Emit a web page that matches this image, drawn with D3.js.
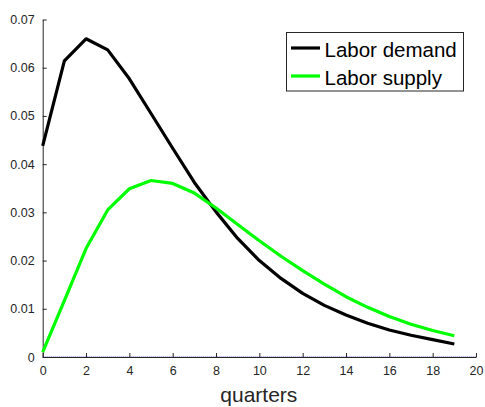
<!DOCTYPE html>
<html>
<head>
<meta charset="utf-8">
<script src="https://cdn.jsdelivr.net/npm/d3@7"></script>
<style>
  body { margin: 0; background: #fff; }
  svg { font-family: "Liberation Sans", Arial, sans-serif; }
  .axis path, .axis line { stroke: #262626; }
  .axis text { fill: #262626; font-size: 12.5px; }
</style>
</head>
<body>
<svg id="chart" width="485" height="407"></svg>
<script>
// quarters 0..19
const quarters = d3.range(0, 20);
const laborDemand = [0.0438, 0.0614, 0.0660, 0.0637, 0.0577, 0.0505, 0.0433, 0.0362, 0.0301, 0.0246,
                     0.0200, 0.0163, 0.0132, 0.0107, 0.0087, 0.0070, 0.0056, 0.0045, 0.0036, 0.0027];
const laborSupply = [0.0010, 0.0117, 0.0225, 0.0305, 0.0349, 0.0366, 0.0360, 0.0340, 0.0309, 0.0275,
                     0.0241, 0.0209, 0.0179, 0.0151, 0.0125, 0.0103, 0.0084, 0.0068, 0.0055, 0.0044];
const xTicks = d3.range(0, 21, 2);
const yTicks = [0, 0.01, 0.02, 0.03, 0.04, 0.05, 0.06, 0.07];
const series = [
  {name: 'Labor demand', values: laborDemand, color: '#000000'},
  {name: 'Labor supply', values: laborSupply, color: '#00ff00'}
];

let svg = d3.select('#chart'),
    x = d3.scaleLinear().domain([0, 20]).range([42.7, 476]),
    y = d3.scaleLinear().domain([0, 0.07]).range([357, 19.5]);

// zero line
svg.append('line')
    .attr('x1', x(0)).attr('x2', x(20))
    .attr('y1', y(0)).attr('y2', y(0))
    .attr('stroke', '#3a3ad8')
    .attr('stroke-width', 1)
    .attr('stroke-dasharray', '1,1');

svg.append('g')
    .attr('class', 'axis')
    .attr('transform', 'translate(0,' + y(0) + ')')
    .call(d3.axisBottom(x).tickValues(xTicks).tickSizeInner(-4).tickSizeOuter(0).tickPadding(9))
    .call(g => g.selectAll('text').attr('dy', '0.71em'));

svg.append('g')
    .attr('class', 'axis')
    .attr('transform', 'translate(' + x(0) + ',0)')
    .call(d3.axisLeft(y).tickValues(yTicks).tickSizeInner(-4).tickSizeOuter(0).tickPadding(8)
        .tickFormat(d => d === 0 ? '0' : d3.format('.2f')(d)));

let line = d3.line()
    .x((d, i) => x(quarters[i]))
    .y(d => y(d));

svg.selectAll('path.series')
    .data(series)
    .enter()
    .append('path')
    .attr('class', 'series')
    .attr('fill', 'none')
    .attr('stroke', d => d.color)
    .attr('stroke-width', 3.2)
    .attr('stroke-linejoin', 'round')
    .attr('d', d => line(d.values));

svg.append('text')
    .attr('x', x(10) - 0.5)
    .attr('y', 402)
    .attr('text-anchor', 'middle')
    .attr('font-size', 21)
    .attr('fill', '#262626')
    .text('quarters');

// legend
let legend = svg.append('g');
legend.append('rect')
    .attr('x', 286.5).attr('y', 32.5)
    .attr('width', 177).attr('height', 58.5)
    .attr('fill', '#fff')
    .attr('stroke', '#262626')
    .attr('stroke-width', 1);

let items = legend.selectAll('g.item')
    .data(series)
    .enter()
    .append('g')
    .attr('class', 'item')
    .attr('transform', (d, i) => 'translate(0,' + (48 + i * 28) + ')');

items.append('line')
    .attr('x1', 291).attr('x2', 320)
    .attr('stroke', d => d.color)
    .attr('stroke-width', 3.2);

items.append('text')
    .attr('x', 324.5)
    .attr('y', 8.5)
    .attr('font-size', 20.5)
    .attr('fill', '#000')
    .text(d => d.name);
</script>
</body>
</html>
